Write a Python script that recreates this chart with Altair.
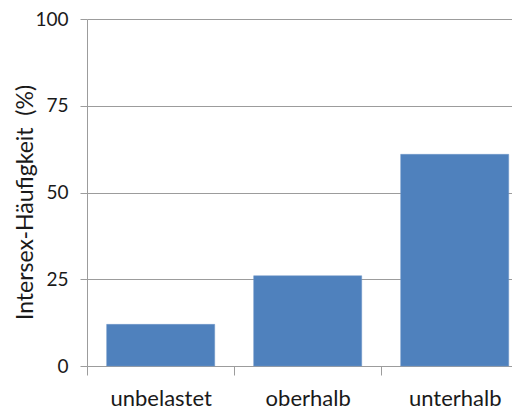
import altair as alt
import pandas as pd

categories = ["unbelastet", "oberhalb", "unterhalb"]
values = [12, 26, 61]

df = pd.DataFrame({"Gruppe": categories, "Wert": values})

FONT = "Lato"
GRAY = "#9c9c9c"
TEXT = "#1a1a1a"

chart = alt.Chart(df).mark_bar(color="#4F81BD", stroke="#6f97c8", strokeWidth=0.5).encode(
    x=alt.X(
        "Gruppe:N",
        sort=categories,
        title=None,
        scale=alt.Scale(paddingInner=0.265, paddingOuter=0.078, align=0.857),
        axis=alt.Axis(
            labelAngle=0,
            labelFontSize=22,
            labelFont=FONT,
            labelColor=TEXT,
            labelPadding=13,
            tickSize=9,
            tickColor=GRAY,
            tickOffset=-73.5,
            labelOffset=73.5,
            domainColor=GRAY,
            grid=False,
        ),
    ),
    y=alt.Y(
        "Wert:Q",
        title="Intersex-Häufigkeit\u00a0\u00a0(%)",
        scale=alt.Scale(domain=[0, 100], nice=False),
        axis=alt.Axis(
            values=[0, 25, 50, 75, 100],
            labelFontSize=19,
            labelFont=FONT,
            labelColor=TEXT,
            labelPadding=12,
            tickSize=7,
            tickColor=GRAY,
            domainColor=GRAY,
            gridColor=GRAY,
            titleFont=FONT,
            titleFontSize=23,
            titleFontWeight="normal",
            titleColor=TEXT,
            titleAngle=270,
            titleAlign="center",
            titleBaseline="middle",
            titleX=-62,
            titleY=183,
        ),
    ),
).properties(
    width=425,
    height=347,
    autosize=alt.AutoSizeParams(type="none"),
    padding={"left": 79, "top": 11, "right": 0, "bottom": 45},
).configure_view(stroke=None)

chart.save("out.html", embed_options={"renderer": "svg", "actions": False})
